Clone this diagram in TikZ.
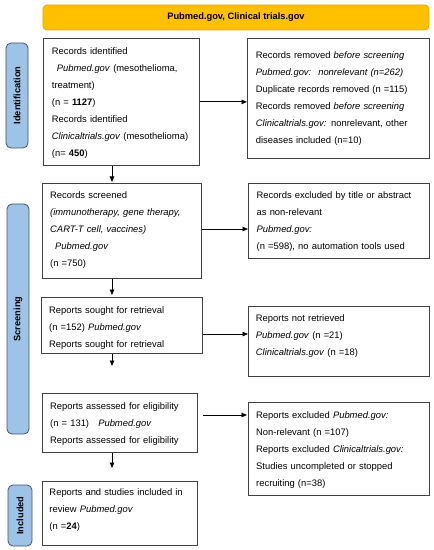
\documentclass[tikz,border=0pt]{standalone}
\usepackage{fontspec}
\setmainfont{Liberation Sans}
\usetikzlibrary{arrows.meta}
\definecolor{gold}{HTML}{FFC000}
\definecolor{goldline}{HTML}{E0A800}
\definecolor{sidefill}{HTML}{9DC3E6}
\definecolor{sideline}{HTML}{44546A}
\definecolor{boxline}{HTML}{404040}
\tikzset{
  box/.style={draw=boxline, line width=0.8bp, fill=white, inner sep=0pt, anchor=north west},
  txt/.style={font=\fontsize{9.4bp}{17bp}\selectfont, align=left, inner sep=0pt, text width=178bp, anchor=base west},
  side/.style={draw=sideline, line width=0.8bp, fill=sidefill, rounded corners=5bp, inner sep=0pt, rotate=90, font=\fontsize{9.3bp}{11bp}\selectfont\bfseries},
  arr/.style={draw=black, line width=0.8bp, -{Triangle[length=5.5bp,width=4.5bp]}}
}
\begin{document}
\begin{tikzpicture}[x=1bp,y=-1bp]
\useasboundingbox (0,0) rectangle (434,550);
% banner
\node[draw=goldline, line width=0.8bp, fill=gold, rounded corners=4bp, inner sep=0pt, minimum width=386bp, minimum height=25bp, font=\fontsize{9.3bp}{11bp}\selectfont\bfseries] (top) at (236,17.5) {Pubmed.gov, Clinical trials.gov};
% side labels
\node[side, minimum width=105bp, minimum height=22bp] (sid) at (17,95.5) {Identification};
\node[side, minimum width=230bp, minimum height=22bp] (ssc) at (18,319) {Screening};
\node[side, minimum width=61bp, minimum height=24bp] (sin) at (20,515.5) {Included};
% boxes
\node[box, minimum width=156bp, minimum height=127bp] (b1) at (43,38) {};
\node[box, minimum width=182bp, minimum height=120bp] (r1) at (247,38) {};
\node[box, minimum width=159bp, minimum height=95bp] (b2) at (42,183) {};
\node[box, minimum width=181bp, minimum height=75bp] (r2) at (248,183) {};
\node[box, minimum width=161bp, minimum height=56bp] (b3) at (41,297) {};
\node[box, minimum width=181bp, minimum height=70bp] (r3) at (248,306) {};
\node[box, minimum width=155bp, minimum height=59bp] (b4) at (42,393) {};
\node[box, minimum width=181bp, minimum height=93bp] (r4) at (248,402) {};
\node[box, minimum width=155bp, minimum height=64bp] (b5) at (42,481) {};
% texts
\node[txt] (t1) at (51.7,54.4) {Records identified\\
\hspace*{5bp}\textit{Pubmed.gov} (mesothelioma,\\
treatment)\\
(n = \textbf{1127})\\
Records identified\\
\textit{Clinicaltrials.gov} (mesothelioma)\\
(n= \textbf{450})};
\node[txt] (u1) at (255.7,58.4) {Records removed \textit{before screening}\\
\textit{Pubmed.gov:}\hspace{7bp}\textit{nonrelevant (n=262)}\\
Duplicate records removed (n =115)\\
Records removed \textit{before screening}\\
\textit{Clinicaltrials.gov:} nonrelevant, other\\
diseases included (n=10)};
\node[txt] (t2) at (50,198.4) {Records screened\\
\textit{(immunotherapy, gene therapy,}\\
\textit{CART-T cell, vaccines)}\\
\hspace*{5bp}\textit{Pubmed.gov}\\
(n =750)};
\node[txt] (u2) at (256.5,198.4) {Records excluded by title or abstract\\
as non-relevant\\
\textit{Pubmed.gov:}\\
(n =598), no automation tools used};
\node[txt] (t3) at (49,313.4) {Reports sought for retrieval\\
(n =152) \textit{Pubmed.gov}\\
Reports sought for retrieval};
\node[txt] (u3) at (255.7,321) {Reports not retrieved\\
\textit{Pubmed.gov} (n =21)\\
\textit{Clinicaltrials.gov} (n =18)};
\node[txt] (t4) at (50,409) {Reports assessed for eligibility\\
(n = 131)\hspace{6bp} \textit{Pubmed.gov}\\
Reports assessed for eligibility};
\node[txt] (u4) at (256,418.4) {Reports excluded \textit{Pubmed.gov:}\\
Non-relevant (n =107)\\
Reports excluded \textit{Clinicaltrials.gov:}\\
Studies uncompleted or stopped\\
recruiting (n=38)};
\node[txt] (t5) at (49.3,495.7) {Reports and studies included in\\
review \textit{Pubmed.gov}\\
(n =\textbf{24})};
% arrow end points
\coordinate (v1) at (112,182);
\coordinate (v2) at (112,295);
\coordinate (v3) at (112,366);
\coordinate (v4) at (112,468);
\coordinate (h3) at (0,334);
\coordinate (h4) at (0,415);
% connectors
\draw[arr] (v1 |- b1.south) -- (v1);
\draw[arr] (v2 |- b2.south) -- (v2);
\draw[arr] (v3 |- b3.south) -- (v3);
\draw[arr] (v4 |- b4.south) -- (v4);
\draw[arr] (b1.east) -- (b1.east -| r1.west);
\draw[arr] (b2.east |- 0,229) -- (r2.west |- 0,229);
\draw[arr] (b3.east |- h3) -- (r3.west |- h3);
\draw[arr] ([xshift=5bp]b4.east |- h4) -- ([xshift=-1bp]r4.west |- h4);
\end{tikzpicture}
\end{document}
